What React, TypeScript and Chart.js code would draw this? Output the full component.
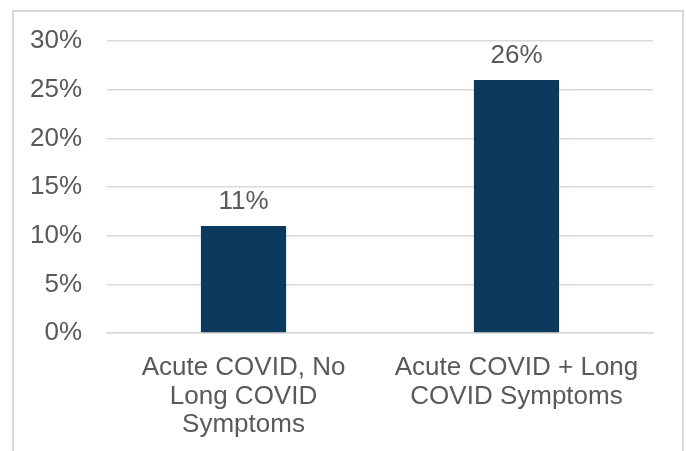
import React, { useEffect, useRef } from "react";
import { Chart, registerables } from "chart.js";

Chart.register(...registerables);

const categories: string[][] = [
  ["Acute COVID, No", "Long COVID", "Symptoms"],
  ["Acute COVID + Long", "COVID Symptoms"],
];
const values: number[] = [11, 26];
const yTicks: number[] = [0, 5, 10, 15, 20, 25, 30];

const FONT = "'Liberation Sans', Arial, sans-serif";
const TEXT = "#595959";
const SIZE = 26;

const dataLabels = {
  id: "dataLabels",
  afterDatasetsDraw(chart: any) {
    const ctx = chart.ctx;
    const meta = chart.getDatasetMeta(0);
    ctx.save();
    ctx.font = `${SIZE}px ${FONT}`;
    ctx.fillStyle = TEXT;
    ctx.textAlign = "center";
    ctx.textBaseline = "alphabetic";
    meta.data.forEach((bar: any, i: number) => {
      ctx.fillText(`${values[i]}%`, bar.x, bar.y - 17);
    });
    ctx.restore();
  },
};

export default function App() {
  const ref = useRef<HTMLCanvasElement>(null);
  useEffect(() => {
    if (!ref.current) return;
    const chart = new Chart(ref.current, {
      type: "bar",
      data: {
        labels: categories,
        datasets: [
          {
            data: values,
            backgroundColor: "#0B3A5E",
            barPercentage: 0.312,
            categoryPercentage: 1,
          },
        ],
      },
      options: {
        animation: false,
        responsive: false,
        maintainAspectRatio: false,
        layout: { padding: { top: 41, right: 33, left: 0, bottom: 0 } },
        plugins: { legend: { display: false }, tooltip: { enabled: false } },
        scales: {
          x: {
            grid: { display: false, drawTicks: false },
            border: { display: true, color: "#d9d9d9", width: 1.5 },
            ticks: {
              color: TEXT,
              font: { family: FONT, size: SIZE, lineHeight: 1.09 },
              padding: 21,
              maxRotation: 0,
              autoSkip: false,
            },
            afterFit(scale: any) {
              scale.height = 118;
            },
          },
          y: {
            min: 0,
            max: 30,
            afterBuildTicks(scale: any) {
              scale.ticks = yTicks.map((v) => ({ value: v }));
            },
            grid: { color: "#d9d9d9", lineWidth: 1.5, drawTicks: false },
            border: { display: false },
            ticks: {
              color: TEXT,
              font: { family: FONT, size: SIZE },
              padding: 25,
              callback: (v: any) => `${v}%`,
            },
            afterFit(scale: any) {
              scale.width = 107;
            },
          },
        },
      },
      plugins: [dataLabels],
    });
    return () => chart.destroy();
  }, []);
  return (
    <div style={{ position: "fixed", left: 0, top: 0, width: 686, height: 451, background: "#fff", overflow: "hidden" }}>
      <div
        style={{
          position: "absolute",
          left: 12,
          top: 10,
          width: 668,
          height: 500,
          border: "2px solid #d9d9d9",
        }}
      />
      <canvas ref={ref} width={686} height={451} style={{ position: "absolute", left: 0, top: 0 }} />
    </div>
  );
}
